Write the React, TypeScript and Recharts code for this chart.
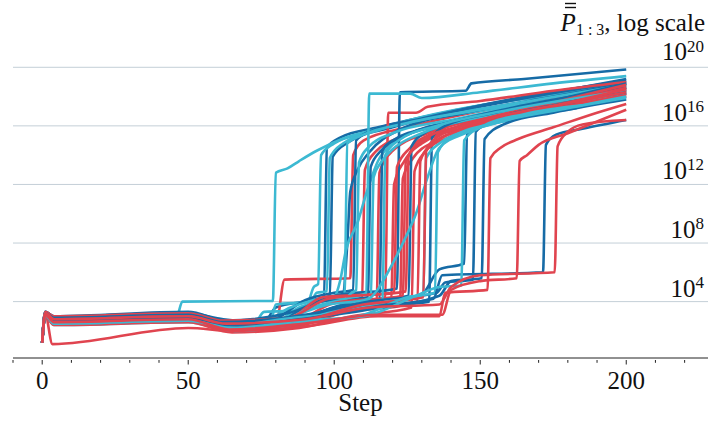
import React from 'react';
import { LineChart, Line, XAxis, YAxis, ReferenceLine, Label } from 'recharts';

// Each run: list of [step, log10(P)] points
const darkBlueRuns: number[][][] = [
  [[0,1.2],[1,3.2],[4,2.9],[50,3.2],[62,2.8],[76,2.6],[80,3.6],[90,4.0],[96.5,4.2],[97.5,14.5],[102,15.2],[115,15.9],[140,17.0],[170,18.1],[200,19.2]],
  [[0,1.2],[1,3.3],[4,3.0],[50,3.3],[63,2.7],[78,2.7],[88,3.9],[98.5,4.4],[99.5,13.9],[105,14.9],[120,15.9],[150,17.3],[180,18.4],[200,19.0]],
  [[0,1.2],[1,3.1],[4,2.8],[50,3.0],[62,2.5],[80,2.7],[92,3.8],[103,4.5],[104.5,8.0],[105.5,11.5],[108,13.0],[112,14.2],[122,15.7],[145,16.9],[175,18.0],[200,18.9]],
  [[0,1.2],[1,3.2],[4,2.9],[50,3.1],[63,2.6],[80,2.9],[90,4.1],[100,4.6],[106.5,4.8],[107.5,15.0],[112,15.6],[130,16.5],[160,17.8],[200,19.1]],
  [[0,1.2],[1,3.0],[4,2.7],[50,2.9],[62,2.4],[82,2.6],[95,4.0],[111.5,4.3],[112.5,13.2],[116,14.3],[125,15.4],[145,16.5],[175,17.7],[200,18.5]],
  [[0,1.2],[1,3.3],[4,3.0],[50,3.2],[63,2.7],[84,3.2],[100,4.4],[121.5,4.9],[122.5,18.3],[145,18.4],[147,18.9],[165,19.2],[200,19.85]],
  [[0,1.2],[1,3.1],[4,2.6],[50,2.8],[64,2.3],[85,2.6],[100,3.6],[115.5,4.0],[116.5,14.3],[120,15.0],[135,16.0],[165,17.4],[200,18.6]],
  [[0,1.2],[1,3.2],[4,2.8],[50,3.0],[63,2.5],[86,2.8],[105,3.9],[125.5,4.4],[126.5,14.6],[130,15.4],[145,16.4],[170,17.5],[200,18.9]],
  [[0,1.2],[1,3.0],[4,2.7],[50,2.9],[64,2.3],[90,2.7],[110,3.6],[132.5,4.0],[133.5,15.2],[138,16.0],[155,16.9],[180,17.8],[184,17.9]],
  [[0,1.2],[1,3.1],[4,2.8],[50,3.0],[63,2.4],[88,2.9],[110,3.7],[130,4.5],[136,6.2],[144.5,6.6],[145.5,15.4],[150,16.0],[165,16.9],[183,17.5]],
  [[0,1.2],[1,3.2],[4,2.9],[50,3.1],[62,2.6],[90,3.1],[112,4.0],[135,4.6],[138,5.3],[147.5,5.5],[148.5,15.6],[155,16.4],[175,17.4],[200,18.3]],
  [[0,1.2],[1,3.0],[4,2.6],[50,2.8],[64,2.2],[88,2.8],[110,3.4],[136,4.4],[140,5.4],[150.5,5.6],[151.5,15.1],[158,16.1],[175,16.9],[200,17.8]],
  [[0,1.2],[1,3.1],[4,2.7],[50,2.9],[63,2.4],[90,2.8],[115,3.7],[134,4.2],[137,5.8],[171.5,6.0],[172.5,14.7],[176,15.4],[185,15.8],[200,16.4]],
];

const lightBlueRuns: number[][][] = [
  [[0,1.2],[1,3.1],[4,2.7],[46,2.95],[48,4.0],[79,4.05],[80,12.8],[84,13.1],[88,13.6],[94,14.3],[104,15.2],[115,15.8],[130,16.6],[150,17.4],[175,18.1],[200,18.9]],
  [[0,1.2],[1,3.2],[4,2.8],[50,3.0],[62,2.5],[72,2.3],[76,3.3],[90,3.4],[93,5.0],[94.5,5.2],[95.5,14.0],[100,14.8],[110,15.5],[130,16.4],[160,17.3],[200,18.6]],
  [[0,1.2],[1,3.0],[4,2.6],[50,2.8],[64,2.3],[78,2.4],[80,3.8],[92,4.0],[94,4.6],[97.5,4.7],[98.5,13.8],[103,14.8],[115,15.7],[140,16.8],[170,17.8],[200,18.8]],
  [[0,1.2],[1,3.1],[4,2.5],[50,2.7],[65,2.1],[80,2.6],[88,3.6],[100,4.3],[102,5.4],[104,7.5],[108,9.4],[111,11.4],[115,13.6],[120,14.8],[135,16.0],[160,17.2],[185,17.9]],
  [[0,1.2],[1,3.3],[4,2.9],[50,3.2],[62,2.6],[74,2.5],[85,3.6],[96,4.2],[103.5,4.3],[104.5,14.8],[110,15.4],[125,16.2],[150,17.1],[180,17.9],[200,18.7]],
  [[0,1.2],[1,3.0],[4,2.4],[50,2.6],[65,2.0],[82,2.4],[90,3.0],[100,3.3],[106,4.6],[107.5,4.8],[108.5,13.5],[112,14.6],[120,15.5],[140,16.4],[165,17.3],[182,17.6]],
  [[0,1.2],[1,3.1],[4,2.7],[50,2.9],[63,2.4],[80,2.5],[92,3.6],[104,4.2],[111,4.6],[112,18.2],[126,18.2],[130,17.9],[150,18.3],[175,18.9],[200,19.4]],
  [[0,1.2],[1,3.2],[4,2.8],[50,3.0],[62,2.4],[77,2.3],[86,3.0],[98,3.8],[110,4.1],[112.5,4.3],[113.5,12.5],[116,13.5],[120,14.4],[130,15.5],[150,16.6],[180,17.6],[200,18.2]],
  [[0,1.2],[1,3.0],[4,2.6],[50,2.8],[64,2.2],[80,2.2],[95,3.1],[110,3.5],[116.5,3.9],[117.5,14.0],[122,15.0],[135,16.0],[160,17.1],[200,18.4]],
  [[0,1.2],[1,3.1],[4,2.5],[50,2.7],[66,2.0],[85,2.4],[100,3.4],[112,4.2],[120,6.6],[124,8.2],[128,10.0],[132,12.5],[136,14.5],[145,15.5],[165,16.6],[183,17.2]],
  [[0,1.2],[1,3.2],[4,2.7],[50,2.9],[63,2.3],[82,2.8],[100,3.2],[118,4.0],[130.5,4.4],[131.5,13.8],[136,14.8],[150,15.9],[175,17.0],[200,18.0]],
  [[0,1.2],[1,3.0],[4,2.6],[50,2.8],[64,2.1],[90,2.6],[110,3.1],[125,4.3],[134.5,4.6],[135.5,14.2],[140,15.2],[155,16.2],[180,17.2],[200,17.9]],
  [[0,1.2],[1,3.1],[4,2.5],[50,2.7],[65,2.2],[88,2.7],[110,3.0],[128,4.4],[136,5.0],[143.5,5.1],[144.5,15.0],[150,15.9],[165,16.8],[185,17.4]],
];

const redRuns: number[][][] = [
  [[0,1.2],[1,3.2],[3.5,1.1],[50,2.2],[65,2.0],[80,2.3],[83,5.5],[105.5,5.6],[106.5,14.0],[110,15.0],[125,15.9],[150,17.0],[180,18.0],[200,18.7]],
  [[0,1.2],[1,3.1],[4,2.7],[50,2.9],[64,2.2],[82,2.3],[95,3.3],[109.5,4.0],[110.5,13.0],[114,14.2],[125,15.4],[150,16.6],[180,17.7],[200,18.4]],
  [[0,1.2],[1,3.2],[4,2.8],[50,3.0],[63,2.4],[84,2.6],[100,3.2],[114.5,3.8],[115.5,12.8],[120,14.3],[132,15.5],[160,16.8],[200,18.2]],
  [[0,1.2],[1,3.0],[4,2.6],[50,2.8],[64,2.1],[85,2.5],[100,3.6],[117.5,4.3],[118.5,16.9],[128,16.9],[132,17.3],[150,17.7],[175,18.4],[200,19.0]],
  [[0,1.2],[1,3.1],[4,2.7],[50,2.9],[63,2.3],[86,2.4],[102,3.4],[119.5,3.9],[120.5,12.0],[124,13.6],[130,14.8],[145,15.9],[175,17.3],[200,18.2]],
  [[0,1.2],[1,3.2],[4,2.9],[50,3.1],[62,2.6],[84,2.8],[96,4.3],[120.5,4.6],[121.5,13.2],[126,14.5],[135,15.6],[160,16.9],[200,18.5]],
  [[0,1.2],[1,3.0],[4,2.5],[50,2.7],[65,2.0],[87,2.3],[104,3.3],[122.5,3.7],[123.5,12.4],[127,13.8],[135,15.0],[155,16.3],[185,17.5],[200,18.0]],
  [[0,1.2],[1,3.1],[4,2.6],[50,2.8],[64,2.2],[85,2.5],[100,3.9],[123.5,4.4],[124.5,13.5],[128,14.6],[140,15.8],[165,17.0],[200,18.6]],
  [[0,1.2],[1,3.3],[4,3.0],[50,3.2],[62,2.7],[84,2.9],[98,4.2],[124.5,4.7],[125.5,14.0],[130,15.0],[145,16.1],[175,17.6],[200,18.8]],
  [[0,1.2],[1,3.0],[4,2.4],[50,2.6],[65,1.9],[88,2.2],[106,3.0],[126.5,3.6],[127.5,12.9],[131,14.2],[140,15.3],[165,16.7],[200,18.1]],
  [[0,1.2],[1,3.1],[4,2.6],[50,2.8],[64,2.1],[86,2.4],[108,3.5],[128.5,4.0],[129.5,13.6],[133,14.7],[145,15.8],[170,17.1],[200,18.3]],
  [[0,1.2],[1,3.2],[4,2.8],[50,3.0],[63,2.4],[86,2.6],[110,3.8],[130.5,4.3],[131.5,14.3],[135,15.2],[150,16.3],[180,17.6],[200,18.5]],
  [[0,1.2],[1,3.0],[4,2.5],[50,2.7],[65,2.0],[90,2.3],[115,3.0],[136,3.0],[138,4.6],[152.5,4.8],[153.5,13.8],[157,14.5],[163,15.1],[175,15.9],[190,16.9],[200,17.5]],
  [[0,1.2],[1,3.1],[4,2.6],[50,2.8],[64,2.1],[90,2.5],[115,3.1],[137,3.1],[140,4.8],[150,5.4],[162.5,5.6],[163.5,13.6],[166,14.0],[170,14.7],[180,15.5],[200,17.1]],
  [[0,1.2],[1,3.2],[4,2.8],[50,3.0],[63,2.5],[90,2.8],[112,3.6],[136,3.8],[140,5.0],[150,5.8],[175.5,6.0],[176.5,14.6],[180,15.6],[185,16.1],[200,16.4]],
];

const xMajorTicks = [0, 50, 100, 150, 200];
const xAllTicks = [-10, 0, 10, 20, 30, 40, 50, 60, 70, 80, 90, 100, 110, 120, 130, 140, 150, 160, 170, 180, 190, 200, 210, 220];
const yTicks = [4, 8, 12, 16, 20];

const DARK = '#166ba6';
const LIGHT = '#3cb9d2';
const RED = '#e0444f';
const FONT = '"Liberation Serif", "Times New Roman", serif';

type Series = { id: string; color: string; pts: { x: number; y: number }[] };

const toPts = (run: number[][]) => run.map(([x, y]) => ({ x, y }));

const series: Series[] = [];
const n = Math.max(darkBlueRuns.length, lightBlueRuns.length, redRuns.length);
for (let i = 0; i < n; i++) {
  if (darkBlueRuns[i]) series.push({ id: 'd' + i, color: DARK, pts: toPts(darkBlueRuns[i]) });
  if (redRuns[i]) series.push({ id: 'r' + i, color: RED, pts: toPts(redRuns[i]) });
  if (lightBlueRuns[i]) series.push({ id: 'l' + i, color: LIGHT, pts: toPts(lightBlueRuns[i]) });
}

const XTick = (props: any) => {
  const { x, y, payload } = props;
  const major = xMajorTicks.includes(payload.value);
  return (
    <g>
      <line x1={x} x2={x} y1={y} y2={y + (major ? 4.5 : 2.8)} stroke="#222" strokeWidth={1} />
      {major && (
        <text x={x} y={y + 29} textAnchor="middle" fontFamily={FONT} fontSize={25} fill="#111">
          {payload.value}
        </text>
      )}
    </g>
  );
};

const makeYLabel = (v: number) => (props: any) => {
  const vb = props.viewBox || {};
  const y = vb.y ?? 0;
  const off = v === 20 ? -7 : -5;
  const sup = v === 20 ? -8 : -9;
  return (
    <text x={704} y={y + off} textAnchor="end" fontFamily={FONT} fontSize={25} fill="#111">
      <tspan>10</tspan>
      <tspan dy={sup} fontSize={17}>{String(v)}</tspan>
    </text>
  );
};

export default function App() {
  return (
    <div style={{ position: 'absolute', left: 0, top: 0, width: 710, height: 421, background: '#fff' }}>
      <LineChart width={710} height={421} margin={{ top: 38, right: 2, left: 13, bottom: 0 }}>
        <XAxis
          type="number"
          dataKey="x"
          domain={[-10, 228]}
          ticks={xAllTicks}
          interval={0}
          allowDataOverflow
          height={63}
          stroke="#222"
          tickLine={false}
          tickSize={0}
          tick={<XTick />}
        >
          <Label value="Step" position="insideBottom" offset={10} fontFamily={FONT} fontSize={25} fill="#111" />
        </XAxis>
        <YAxis type="number" dataKey="y" hide domain={[0.15, 22]} allowDataOverflow />
        {yTicks.map((v) => (
          <ReferenceLine key={'g' + v} y={v} stroke="#c4cfd7" strokeWidth={1} label={makeYLabel(v)} />
        ))}
        {series.map((s) => (
          <Line
            key={s.id}
            data={s.pts}
            dataKey="y"
            type="monotone"
            stroke={s.color}
            strokeWidth={2.6}
            dot={false}
            activeDot={false}
            isAnimationActive={false}
            strokeLinejoin="round"
          />
        ))}
      </LineChart>
      <svg width={710} height={421} style={{ position: 'absolute', left: 0, top: 0, pointerEvents: 'none' }}>
        <text x={705} y={31} textAnchor="end" fontFamily={FONT} fontSize={25} fill="#111">
          <tspan fontStyle="italic">P</tspan>
          <tspan fontSize={16} dy={4}>{'1 : 3'}</tspan>
          <tspan dy={-4}>, log scale</tspan>
        </text>
        <line x1={565} x2={576} y1={3.5} y2={3.5} stroke="#111" strokeWidth={1.4} />
        <line x1={565} x2={576} y1={7.5} y2={7.5} stroke="#111" strokeWidth={1.4} />
      </svg>
    </div>
  );
}
